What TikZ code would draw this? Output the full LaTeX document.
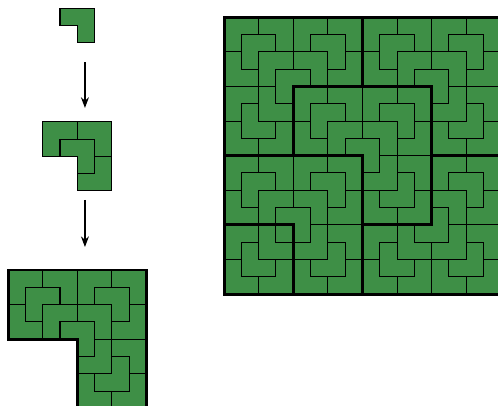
\documentclass[tikz,border=0pt]{standalone}
\usepackage{tikz}
\usetikzlibrary{arrows.meta}
\definecolor{tilec}{RGB}{62,143,70}

\newcommand\chairtile[1]{%
  \ifnum#1=0
    \draw[tile] (-1,0) -- (-1,1) -- (1,1) -- (1,-1) -- (0,-1) -- (0,0) -- cycle;
  \else
    \pgfmathsetmacro\subq{2^(#1-1)}%
    \pgfmathtruncatemacro\sublev{#1-1}%
    \begin{scope}\chairtile{\sublev}\end{scope}%
    \begin{scope}[shift={(-\subq,\subq)},rotate=90]\chairtile{\sublev}\end{scope}%
    \begin{scope}[shift={(\subq,\subq)}]\chairtile{\sublev}\end{scope}%
    \begin{scope}[shift={(\subq,-\subq)},rotate=270]\chairtile{\sublev}\end{scope}%
  \fi}

\begin{document}
\begin{tikzpicture}[x=13pt,y=13pt,
  tile/.style={fill=tilec,draw=black,line width=0.8pt},
  frame/.style={draw=black,line width=2.2pt,line cap=rect},
  arr/.style={-{Stealth[length=8pt,width=6pt]},line width=0.9pt}]
  \useasboundingbox (0,0) rectangle (28.786,23.468);
  \clip (0,0) rectangle (28.786,23.468);
  % left column
  \begin{scope}[shift={(4.47,22)}] \chairtile{0} \end{scope}
  \begin{scope}[shift={(4.47,14.43)}] \chairtile{1} \end{scope}
  \begin{scope}[shift={(4.47,3.86)}]
    \chairtile{2}
    \draw[frame] (-4,0) -- (-4,4) -- (4,4) -- (4,-4) -- (0,-4) -- (0,0) -- cycle;
  \end{scope}
  \coordinate (a1) at (4.91,19.88);
  \coordinate (b1) at (4.91,17.23);
  \coordinate (a2) at (4.91,11.91);
  \coordinate (b2) at (4.91,9.19);
  \draw[arr] (a1) -- (b1);
  \draw[arr] (a2) -- (b2);
  % board
  \begin{scope}[shift={(12.95,6.47)}]
    \begin{scope}[shift={(8,8)}] \chairtile{3} \end{scope}
    \begin{scope}[shift={(4,4)}] \chairtile{2} \end{scope}
    \begin{scope}[shift={(2,2)},rotate=180] \chairtile{1} \end{scope}
    \begin{scope}[shift={(3,3)},rotate=180] \chairtile{0} \end{scope}
    \draw[tile] (3,3) rectangle (4,4);
    \draw[frame] (0,8) -- (8,8) -- (8,0);
    \draw[frame] (4,8) -- (4,12) -- (12,12) -- (12,4) -- (8,4);
    \draw[frame] (8,12) -- (8,16);
    \draw[frame] (12,8) -- (16,8);
    \draw[frame] (0,4) -- (4,4) -- (4,0);
    \draw[frame] (0,0) rectangle (16,16);
  \end{scope}
\end{tikzpicture}
\end{document}
